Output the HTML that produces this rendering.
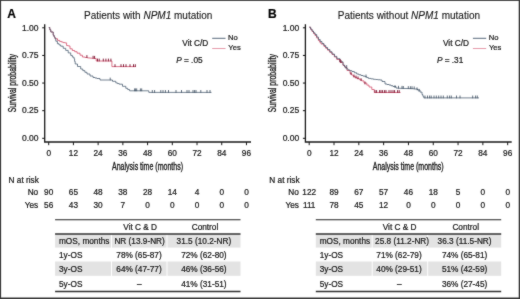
<!DOCTYPE html>
<html><head><meta charset="utf-8"><style>
html,body{margin:0;padding:0;background:#fff;}
body{width:520px;height:299px;overflow:hidden;}
svg{display:block;font-family:"Liberation Sans", sans-serif;}
#w{width:520px;height:299px;will-change:transform;}
text{stroke:#1a1a1a;stroke-width:0.22px;}
.lab{stroke-width:0.35px;}
</style></head><body><div id="w">
<svg width="520" height="299" viewBox="0 0 520 299">
<defs><filter id="sf" filterUnits="userSpaceOnUse" x="0" y="0" width="520" height="299" color-interpolation-filters="sRGB"><feConvolveMatrix order="3" kernelMatrix="1 2 1 2 24 2 1 2 1" divisor="36" edgeMode="duplicate"/></filter></defs>
<g filter="url(#sf)"><rect x="0" y="0" width="520" height="299" fill="#fff"/>
<rect x="0" y="0" width="520" height="1" fill="#4a4a4a"/><rect x="0" y="0" width="1.1" height="299" fill="#383838"/><rect x="518.7" y="0" width="1.3" height="299" fill="#3a3a3a"/><rect x="0" y="297.5" width="520" height="1.5" fill="#3a3a3a"/>
<text x="7.3" y="17.6" font-size="12" font-weight="bold" fill="#000">A</text>
<text x="148.2" y="19" font-size="10" text-anchor="middle" fill="#1a1a1a" style="stroke-width:0.12px">Patients with <tspan font-style="italic">NPM1</tspan> mutation</text>
<path d="M44.7 24.2 V142 H251" fill="none" stroke="#1a1a1a" stroke-width="1.3"/>
<path d="M42.2 27.8 H44.7" stroke="#111" stroke-width="1"/>
<text x="38.5" y="31" font-size="8.5" text-anchor="end" fill="#1a1a1a">1.00</text>
<path d="M42.2 55.425 H44.7" stroke="#111" stroke-width="1"/>
<text x="38.5" y="58" font-size="8.5" text-anchor="end" fill="#1a1a1a">0.75</text>
<path d="M42.2 83.05 H44.7" stroke="#111" stroke-width="1"/>
<text x="38.5" y="86" font-size="8.5" text-anchor="end" fill="#1a1a1a">0.50</text>
<path d="M42.2 110.675 H44.7" stroke="#111" stroke-width="1"/>
<text x="38.5" y="113" font-size="8.5" text-anchor="end" fill="#1a1a1a">0.25</text>
<path d="M42.2 138.3 H44.7" stroke="#111" stroke-width="1"/>
<text x="38.5" y="141" font-size="8.5" text-anchor="end" fill="#1a1a1a">0.00</text>
<path d="M48.7 142 V145.2" stroke="#1a1a1a" stroke-width="1"/>
<text x="48.7" y="156" font-size="8.25" text-anchor="middle" fill="#1a1a1a">0</text>
<path d="M73.42 142 V145.2" stroke="#1a1a1a" stroke-width="1"/>
<text x="73.42" y="156" font-size="8.25" text-anchor="middle" fill="#1a1a1a">12</text>
<path d="M98.14 142 V145.2" stroke="#1a1a1a" stroke-width="1"/>
<text x="98.14" y="156" font-size="8.25" text-anchor="middle" fill="#1a1a1a">24</text>
<path d="M122.86 142 V145.2" stroke="#1a1a1a" stroke-width="1"/>
<text x="122.86" y="156" font-size="8.25" text-anchor="middle" fill="#1a1a1a">36</text>
<path d="M147.57999999999998 142 V145.2" stroke="#1a1a1a" stroke-width="1"/>
<text x="147.57999999999998" y="156" font-size="8.25" text-anchor="middle" fill="#1a1a1a">48</text>
<path d="M172.3 142 V145.2" stroke="#1a1a1a" stroke-width="1"/>
<text x="172.3" y="156" font-size="8.25" text-anchor="middle" fill="#1a1a1a">60</text>
<path d="M197.01999999999998 142 V145.2" stroke="#1a1a1a" stroke-width="1"/>
<text x="197.01999999999998" y="156" font-size="8.25" text-anchor="middle" fill="#1a1a1a">72</text>
<path d="M221.74 142 V145.2" stroke="#1a1a1a" stroke-width="1"/>
<text x="221.74" y="156" font-size="8.25" text-anchor="middle" fill="#1a1a1a">84</text>
<path d="M246.45999999999998 142 V145.2" stroke="#1a1a1a" stroke-width="1"/>
<text x="246.45999999999998" y="156" font-size="8.25" text-anchor="middle" fill="#1a1a1a">96</text>
<text transform="translate(147.5 169.8) scale(0.704 1)" font-size="10" class="lab" text-anchor="middle" fill="#1a1a1a">Analysis time (months)</text>
<text transform="translate(15.6 83.2) rotate(-90) scale(0.694 1)" font-size="10" class="lab" text-anchor="middle" fill="#1a1a1a">Survival probability</text>
<text x="182.3" y="46.2" font-size="8.25" fill="#1a1a1a">Vit C/D</text>
<path d="M212.2 38.3 H225.5" stroke="#46596e" stroke-width="0.9"/>
<path d="M212.2 48.5 H225.5" stroke="#d04462" stroke-width="0.7" opacity="0.75"/>
<text x="228.1" y="40.4" font-size="7.6" fill="#1a1a1a">No</text>
<text x="228.3" y="50.0" font-size="7.6" fill="#1a1a1a">Yes</text>
<text x="176.2" y="63" font-size="8.25" fill="#1a1a1a"><tspan font-style="italic">P</tspan> = .05</text>
<path d="M48.80 27.50 L49.80 27.50 L49.80 29.75 L50.80 29.75 L50.80 32.00 L53.20 32.00 L53.20 35.20 L54.10 35.20 L54.10 36.95 L55.00 36.95 L55.00 38.70 L57.50 38.70 L57.50 40.40 L59.60 40.40 L59.60 41.40 L61.40 41.40 L61.40 42.00 L63.20 42.00 L63.20 42.60 L64.90 42.60 L64.90 42.90 L66.60 42.90 L66.60 43.20 L66.60 45.60 L68.30 45.60 L68.30 45.95 L70.00 45.95 L70.00 46.30 L70.00 48.80 L72.30 48.80 L72.30 50.50 L74.70 50.50 L74.70 51.70 L77.10 51.70 L77.10 53.20 L80.00 53.20 L80.00 55.20 L82.40 55.20 L82.40 57.00 L84.90 57.00 L84.90 57.45 L87.40 57.45 L87.40 57.90 L89.60 57.90 L89.60 58.10 L91.80 58.10 L91.80 58.30 L94.00 58.30 L94.00 58.50 L96.20 58.50 L96.20 61.00 L111.90 61.00 L111.90 66.60 L135.80 66.60" fill="none" stroke="#d04462" stroke-width="0.75"/>
<path d="M48.80 27.50 L49.80 27.50 L49.80 29.75 L50.80 29.75 L50.80 32.00 L53.20 32.00 L53.20 35.20 L54.10 35.20 L54.10 36.95 L55.00 36.95 L55.00 38.70 L55.80 38.70 L55.80 41.20 L57.40 41.20 L57.40 43.70 L59.05 43.70 L59.05 44.95 L60.70 44.95 L60.70 46.20 L63.20 46.20 L63.20 48.30 L65.70 48.30 L65.70 50.40 L68.20 50.40 L68.20 52.90 L70.70 52.90 L70.70 55.40 L72.35 55.40 L72.35 57.10 L74.00 57.10 L74.00 58.80 L74.60 58.80 L74.60 61.40 L75.20 61.40 L75.20 64.00 L77.50 64.00 L77.50 66.50 L80.70 66.50 L80.70 69.00 L82.80 69.00 L82.80 70.65 L84.90 70.65 L84.90 72.30 L87.00 72.30 L87.00 74.00 L90.00 74.00 L90.00 76.00 L93.00 76.00 L93.00 77.50 L95.00 77.50 L95.00 78.00 L97.00 78.00 L97.00 78.50 L100.00 78.50 L100.00 80.00 L109.50 80.00 L112.50 80.00 L112.50 81.30 L115.80 81.30 L115.80 82.90 L117.50 82.90 L117.50 83.55 L119.20 83.55 L119.20 84.20 L122.50 84.20 L122.50 86.30 L125.80 86.30 L125.80 88.30 L127.70 88.30 L127.70 89.55 L129.60 89.55 L129.60 90.80 L148.80 90.80 L148.80 92.40 L211.50 92.40" fill="none" stroke="#46596e" stroke-width="0.75"/>
<path d="M110.2 80.4v-2.8 M134.6 91.2v-2.8 M135.6 91.2v-2.8 M136.7 91.2v-2.8 M140.4 91.2v-2.8 M141.7 91.2v-2.8 M152.3 92.8v-2.8 M154.6 92.8v-2.8 M160.8 92.8v-2.8 M163.0 92.8v-2.8 M165.4 92.8v-2.8 M168.5 92.8v-2.8 M176.0 92.8v-2.8 M181.5 92.8v-2.8 M187.0 92.8v-2.8 M189.0 92.8v-2.8 M193.0 92.8v-2.8 M194.6 92.8v-2.8 M196.0 92.8v-2.8 M200.8 92.8v-2.8 M207.0 92.8v-2.8 M210.0 92.8v-2.8" stroke="#34465a" stroke-width="0.75"/>
<path d="M86.9 57.9v-2.8 M93.1 58.6v-2.8 M94.6 58.7v-2.8 M97.5 61.4v-2.8 M99.2 61.4v-2.8 M103.3 61.4v-2.8 M105.9 61.4v-2.8 M108.4 61.4v-2.8 M110.9 61.4v-2.8 M115.0 67.0v-2.8 M121.0 67.0v-2.8 M123.5 67.0v-2.8 M126.0 67.0v-2.8 M130.0 67.0v-2.8 M133.5 67.0v-2.8 M135.3 67.0v-2.8" stroke="#7a0f2c" stroke-width="0.9"/>
<text x="8.6" y="182.5" font-size="8.25" fill="#1a1a1a">N at risk</text>
<text x="38.2" y="195" font-size="8.25" text-anchor="end" fill="#1a1a1a">No</text>
<text x="38.2" y="208" font-size="8.25" text-anchor="end" fill="#1a1a1a">Yes</text>
<text x="48.7" y="195" font-size="8.25" text-anchor="middle" fill="#1a1a1a">90</text>
<text x="48.7" y="208" font-size="8.25" text-anchor="middle" fill="#1a1a1a">56</text>
<text x="73.42" y="195" font-size="8.25" text-anchor="middle" fill="#1a1a1a">65</text>
<text x="73.42" y="208" font-size="8.25" text-anchor="middle" fill="#1a1a1a">43</text>
<text x="98.14" y="195" font-size="8.25" text-anchor="middle" fill="#1a1a1a">48</text>
<text x="98.14" y="208" font-size="8.25" text-anchor="middle" fill="#1a1a1a">30</text>
<text x="122.86" y="195" font-size="8.25" text-anchor="middle" fill="#1a1a1a">38</text>
<text x="122.86" y="208" font-size="8.25" text-anchor="middle" fill="#1a1a1a">7</text>
<text x="147.57999999999998" y="195" font-size="8.25" text-anchor="middle" fill="#1a1a1a">28</text>
<text x="147.57999999999998" y="208" font-size="8.25" text-anchor="middle" fill="#1a1a1a">0</text>
<text x="172.3" y="195" font-size="8.25" text-anchor="middle" fill="#1a1a1a">14</text>
<text x="172.3" y="208" font-size="8.25" text-anchor="middle" fill="#1a1a1a">0</text>
<text x="197.01999999999998" y="195" font-size="8.25" text-anchor="middle" fill="#1a1a1a">4</text>
<text x="197.01999999999998" y="208" font-size="8.25" text-anchor="middle" fill="#1a1a1a">0</text>
<text x="221.74" y="195" font-size="8.25" text-anchor="middle" fill="#1a1a1a">0</text>
<text x="221.74" y="208" font-size="8.25" text-anchor="middle" fill="#1a1a1a">0</text>
<text x="246.45999999999998" y="195" font-size="8.25" text-anchor="middle" fill="#1a1a1a">0</text>
<text x="246.45999999999998" y="208" font-size="8.25" text-anchor="middle" fill="#1a1a1a">0</text>
<rect x="55.1" y="234.2" width="185.4" height="13.400000000000006" fill="#e3e3e3"/>
<rect x="55.1" y="261.5" width="185.4" height="14.300000000000011" fill="#e3e3e3"/>
<path d="M111.5 234.2 V291.3" stroke="#fff" stroke-width="1"/>
<path d="M167 234.2 V291.3" stroke="#fff" stroke-width="1"/>
<path d="M55.1 219.8 H240.5" stroke="#222" stroke-width="1.1"/>
<path d="M55.1 234 H240.5" stroke="#333" stroke-width="1.3"/>
<path d="M55.1 291.6 H240.5" stroke="#333" stroke-width="1.5"/>
<text x="140.2" y="229.6" font-size="8.25" text-anchor="middle" fill="#1a1a1a">Vit C &amp; D</text>
<text x="205.0" y="229.6" font-size="8.25" text-anchor="middle" fill="#1a1a1a">Control</text>
<text x="59" y="243.5" font-size="8.25" fill="#1a1a1a">mOS, months</text>
<text x="139.6" y="243.5" font-size="8.25" text-anchor="middle" fill="#1a1a1a">NR (13.9-NR)</text>
<text x="203.9" y="243.5" font-size="8.25" text-anchor="middle" fill="#1a1a1a">31.5 (10.2-NR)</text>
<text x="59" y="257.8" font-size="8.25" fill="#1a1a1a">1y-OS</text>
<text x="139" y="257.8" font-size="8.25" text-anchor="middle" fill="#1a1a1a">78% (65-87)</text>
<text x="203.9" y="257.8" font-size="8.25" text-anchor="middle" fill="#1a1a1a">72% (62-80)</text>
<text x="59" y="271.8" font-size="8.25" fill="#1a1a1a">3y-OS</text>
<text x="139" y="271.8" font-size="8.25" text-anchor="middle" fill="#1a1a1a">64% (47-77)</text>
<text x="203.9" y="271.8" font-size="8.25" text-anchor="middle" fill="#1a1a1a">46% (36-56)</text>
<text x="59" y="286.6" font-size="8.25" fill="#1a1a1a">5y-OS</text>
<text x="139.4" y="286.6" font-size="8.25" text-anchor="middle" fill="#1a1a1a">–</text>
<text x="203.9" y="286.6" font-size="8.25" text-anchor="middle" fill="#1a1a1a">41% (31-51)</text>
<text x="268.0" y="17.6" font-size="12" font-weight="bold" fill="#000">B</text>
<text x="408.9" y="19" font-size="10" text-anchor="middle" fill="#1a1a1a" style="stroke-width:0.12px">Patients without <tspan font-style="italic">NPM1</tspan> mutation</text>
<path d="M305.4 24.2 V142 H511.7" fill="none" stroke="#1a1a1a" stroke-width="1.3"/>
<path d="M302.9 27.8 H305.4" stroke="#111" stroke-width="1"/>
<text x="299.2" y="31" font-size="8.5" text-anchor="end" fill="#1a1a1a">1.00</text>
<path d="M302.9 55.425 H305.4" stroke="#111" stroke-width="1"/>
<text x="299.2" y="58" font-size="8.5" text-anchor="end" fill="#1a1a1a">0.75</text>
<path d="M302.9 83.05 H305.4" stroke="#111" stroke-width="1"/>
<text x="299.2" y="86" font-size="8.5" text-anchor="end" fill="#1a1a1a">0.50</text>
<path d="M302.9 110.675 H305.4" stroke="#111" stroke-width="1"/>
<text x="299.2" y="113" font-size="8.5" text-anchor="end" fill="#1a1a1a">0.25</text>
<path d="M302.9 138.3 H305.4" stroke="#111" stroke-width="1"/>
<text x="299.2" y="141" font-size="8.5" text-anchor="end" fill="#1a1a1a">0.00</text>
<path d="M309.2 142 V145.2" stroke="#1a1a1a" stroke-width="1"/>
<text x="309.2" y="156" font-size="8.25" text-anchor="middle" fill="#1a1a1a">0</text>
<path d="M334.01 142 V145.2" stroke="#1a1a1a" stroke-width="1"/>
<text x="334.01" y="156" font-size="8.25" text-anchor="middle" fill="#1a1a1a">12</text>
<path d="M358.82 142 V145.2" stroke="#1a1a1a" stroke-width="1"/>
<text x="358.82" y="156" font-size="8.25" text-anchor="middle" fill="#1a1a1a">24</text>
<path d="M383.63 142 V145.2" stroke="#1a1a1a" stroke-width="1"/>
<text x="383.63" y="156" font-size="8.25" text-anchor="middle" fill="#1a1a1a">36</text>
<path d="M408.44 142 V145.2" stroke="#1a1a1a" stroke-width="1"/>
<text x="408.44" y="156" font-size="8.25" text-anchor="middle" fill="#1a1a1a">48</text>
<path d="M433.25 142 V145.2" stroke="#1a1a1a" stroke-width="1"/>
<text x="433.25" y="156" font-size="8.25" text-anchor="middle" fill="#1a1a1a">60</text>
<path d="M458.05999999999995 142 V145.2" stroke="#1a1a1a" stroke-width="1"/>
<text x="458.05999999999995" y="156" font-size="8.25" text-anchor="middle" fill="#1a1a1a">72</text>
<path d="M482.87 142 V145.2" stroke="#1a1a1a" stroke-width="1"/>
<text x="482.87" y="156" font-size="8.25" text-anchor="middle" fill="#1a1a1a">84</text>
<path d="M507.67999999999995 142 V145.2" stroke="#1a1a1a" stroke-width="1"/>
<text x="507.67999999999995" y="156" font-size="8.25" text-anchor="middle" fill="#1a1a1a">96</text>
<text transform="translate(408.2 169.8) scale(0.704 1)" font-size="10" class="lab" text-anchor="middle" fill="#1a1a1a">Analysis time (months)</text>
<text transform="translate(276.3 83.2) rotate(-90) scale(0.694 1)" font-size="10" class="lab" text-anchor="middle" fill="#1a1a1a">Survival probability</text>
<text x="443.0" y="46.2" font-size="8.25" fill="#1a1a1a">Vit C/D</text>
<path d="M472.9 38.3 H486.2" stroke="#46596e" stroke-width="0.9"/>
<path d="M472.9 48.5 H486.2" stroke="#d04462" stroke-width="0.7" opacity="0.75"/>
<text x="488.79999999999995" y="40.4" font-size="7.6" fill="#1a1a1a">No</text>
<text x="489.0" y="50.0" font-size="7.6" fill="#1a1a1a">Yes</text>
<text x="436.9" y="63" font-size="8.25" fill="#1a1a1a"><tspan font-style="italic">P</tspan> = .31</text>
<path d="M309.20 27.20 L310.60 27.20 L310.60 29.35 L312.00 29.35 L312.00 31.50 L313.50 31.50 L313.50 33.50 L315.00 33.50 L315.00 35.50 L316.70 35.50 L316.70 38.00 L318.40 38.00 L318.40 40.50 L319.70 40.50 L319.70 42.25 L321.00 42.25 L321.00 44.00 L324.00 44.00 L324.00 46.50 L325.80 46.50 L325.80 48.35 L327.60 48.35 L327.60 50.20 L329.80 50.20 L329.80 52.35 L332.00 52.35 L332.00 54.50 L334.40 54.50 L334.40 57.00 L336.80 57.00 L336.80 59.50 L340.00 59.50 L340.00 62.50 L343.00 62.50 L343.00 65.50 L345.00 65.50 L345.00 67.50 L347.00 67.50 L347.00 70.50 L350.00 70.50 L350.00 73.50 L351.70 73.50 L351.70 75.10 L353.40 75.10 L353.40 76.70 L355.20 76.70 L355.20 77.60 L357.00 77.60 L357.00 78.50 L359.35 78.50 L359.35 79.70 L361.70 79.70 L361.70 80.90 L364.00 80.90 L364.00 83.00 L366.80 83.00 L366.80 85.10 L369.00 85.10 L369.00 87.00 L371.80 87.00 L371.80 89.50 L374.30 89.50 L374.30 92.50 L400.50 92.50" fill="none" stroke="#d04462" stroke-width="0.75"/>
<path d="M309.20 27.20 L310.60 27.20 L310.60 29.10 L312.00 29.10 L312.00 31.00 L313.50 31.00 L313.50 32.75 L315.00 32.75 L315.00 34.50 L316.70 34.50 L316.70 37.00 L318.40 37.00 L318.40 39.50 L320.20 39.50 L320.20 41.50 L322.00 41.50 L322.00 43.50 L323.87 43.50 L323.87 45.50 L325.73 45.50 L325.73 47.50 L327.60 47.50 L327.60 49.50 L329.80 49.50 L329.80 51.75 L332.00 51.75 L332.00 54.00 L334.40 54.00 L334.40 56.35 L336.80 56.35 L336.80 58.70 L340.00 58.70 L340.00 61.80 L343.00 61.80 L343.00 65.00 L344.50 65.00 L344.50 66.90 L346.00 66.90 L346.00 68.80 L348.00 68.80 L348.00 70.00 L350.00 70.00 L350.00 70.75 L352.00 70.75 L352.00 71.50 L354.35 71.50 L354.35 72.75 L356.70 72.75 L356.70 74.00 L358.85 74.00 L358.85 74.75 L361.00 74.75 L361.00 75.50 L363.00 75.50 L363.00 76.10 L365.00 76.10 L365.00 76.70 L366.70 76.70 L366.70 77.55 L368.40 77.55 L368.40 78.40 L370.90 78.40 L370.90 78.85 L373.40 78.85 L373.40 79.30 L375.60 79.30 L375.60 79.53 L377.80 79.53 L377.80 79.77 L380.00 79.77 L380.00 80.00 L382.00 80.00 L382.00 81.50 L385.00 81.50 L385.00 84.00 L387.00 84.00 L387.00 84.50 L389.00 84.50 L389.00 85.00 L391.00 85.00 L391.00 85.75 L393.00 85.75 L393.00 86.50 L396.00 86.50 L396.00 88.00 L400.00 88.30 L406.00 88.50 L413.30 88.70 L415.00 89.00 L417.50 89.00 L417.50 90.00 L420.00 90.00 L420.00 92.10 L422.00 92.10 L422.00 94.60 L422.90 94.60 L422.90 96.25 L423.80 96.25 L423.80 97.90 L479.00 97.90" fill="none" stroke="#46596e" stroke-width="0.75"/>
<path d="M346.7 67.9v-2.8 M366.0 77.3v-2.8 M395.0 88.0v-2.8 M398.5 88.6v-2.8 M402.0 88.7v-2.8 M403.3 88.8v-2.8 M408.3 88.9v-2.8 M410.4 89.0v-2.8 M412.0 89.0v-2.8 M414.2 89.2v-2.8 M417.0 90.2v-2.8 M419.0 91.7v-2.8 M425.0 98.3v-2.8 M427.5 98.3v-2.8 M429.6 98.3v-2.8 M431.2 98.3v-2.8 M434.0 98.3v-2.8 M436.3 98.3v-2.8 M438.7 98.3v-2.8 M441.0 98.3v-2.8 M443.3 98.3v-2.8 M447.3 98.3v-2.8 M449.6 98.3v-2.8 M451.3 98.3v-2.8 M456.5 98.3v-2.8 M460.0 98.3v-2.8 M472.7 98.3v-2.8 M475.6 98.3v-2.8 M477.3 98.3v-2.8" stroke="#34465a" stroke-width="0.75"/>
<path d="M340.0 61.9v-2.8 M341.0 62.9v-2.8 M351.0 74.9v-2.8 M354.0 77.4v-2.8 M356.0 78.4v-2.8 M358.0 79.3v-2.8 M361.0 81.0v-2.8 M365.0 84.4v-2.8 M375.0 92.9v-2.8 M376.6 92.9v-2.8 M379.6 92.9v-2.8 M381.0 92.9v-2.8 M382.6 92.9v-2.8 M384.6 92.9v-2.8 M386.0 92.9v-2.8 M389.0 92.9v-2.8 M391.0 92.9v-2.8 M393.0 92.9v-2.8 M394.6 92.9v-2.8 M397.6 92.9v-2.8 M399.2 92.9v-2.8" stroke="#7a0f2c" stroke-width="0.9"/>
<text x="269.3" y="182.5" font-size="8.25" fill="#1a1a1a">N at risk</text>
<text x="298.9" y="195" font-size="8.25" text-anchor="end" fill="#1a1a1a">No</text>
<text x="298.9" y="208" font-size="8.25" text-anchor="end" fill="#1a1a1a">Yes</text>
<text x="309.2" y="195" font-size="8.25" text-anchor="middle" fill="#1a1a1a">122</text>
<text x="309.2" y="208" font-size="8.25" text-anchor="middle" fill="#1a1a1a">111</text>
<text x="334.01" y="195" font-size="8.25" text-anchor="middle" fill="#1a1a1a">89</text>
<text x="334.01" y="208" font-size="8.25" text-anchor="middle" fill="#1a1a1a">78</text>
<text x="358.82" y="195" font-size="8.25" text-anchor="middle" fill="#1a1a1a">67</text>
<text x="358.82" y="208" font-size="8.25" text-anchor="middle" fill="#1a1a1a">45</text>
<text x="383.63" y="195" font-size="8.25" text-anchor="middle" fill="#1a1a1a">57</text>
<text x="383.63" y="208" font-size="8.25" text-anchor="middle" fill="#1a1a1a">12</text>
<text x="408.44" y="195" font-size="8.25" text-anchor="middle" fill="#1a1a1a">46</text>
<text x="408.44" y="208" font-size="8.25" text-anchor="middle" fill="#1a1a1a">0</text>
<text x="433.25" y="195" font-size="8.25" text-anchor="middle" fill="#1a1a1a">18</text>
<text x="433.25" y="208" font-size="8.25" text-anchor="middle" fill="#1a1a1a">0</text>
<text x="458.05999999999995" y="195" font-size="8.25" text-anchor="middle" fill="#1a1a1a">5</text>
<text x="458.05999999999995" y="208" font-size="8.25" text-anchor="middle" fill="#1a1a1a">0</text>
<text x="482.87" y="195" font-size="8.25" text-anchor="middle" fill="#1a1a1a">0</text>
<text x="482.87" y="208" font-size="8.25" text-anchor="middle" fill="#1a1a1a">0</text>
<text x="507.67999999999995" y="195" font-size="8.25" text-anchor="middle" fill="#1a1a1a">0</text>
<text x="507.67999999999995" y="208" font-size="8.25" text-anchor="middle" fill="#1a1a1a">0</text>
<rect x="315.8" y="234.2" width="185.39999999999998" height="13.400000000000006" fill="#e3e3e3"/>
<rect x="315.8" y="261.5" width="185.39999999999998" height="14.300000000000011" fill="#e3e3e3"/>
<path d="M372.2 234.2 V291.3" stroke="#fff" stroke-width="1"/>
<path d="M427.7 234.2 V291.3" stroke="#fff" stroke-width="1"/>
<path d="M315.8 219.8 H501.2" stroke="#222" stroke-width="1.1"/>
<path d="M315.8 234 H501.2" stroke="#333" stroke-width="1.3"/>
<path d="M315.8 291.6 H501.2" stroke="#333" stroke-width="1.5"/>
<text x="399.6" y="229.6" font-size="8.25" text-anchor="middle" fill="#1a1a1a">Vit C &amp; D</text>
<text x="465.7" y="229.6" font-size="8.25" text-anchor="middle" fill="#1a1a1a">Control</text>
<text x="319.7" y="243.5" font-size="8.25" fill="#1a1a1a">mOS, months</text>
<text x="402.1" y="243.5" font-size="8.25" text-anchor="middle" fill="#1a1a1a">25.8 (11.2-NR)</text>
<text x="464.6" y="243.5" font-size="8.25" text-anchor="middle" fill="#1a1a1a">36.3 (11.5-NR)</text>
<text x="319.7" y="257.8" font-size="8.25" fill="#1a1a1a">1y-OS</text>
<text x="399.0" y="257.8" font-size="8.25" text-anchor="middle" fill="#1a1a1a">71% (62-79)</text>
<text x="464.6" y="257.8" font-size="8.25" text-anchor="middle" fill="#1a1a1a">74% (65-81)</text>
<text x="319.7" y="271.8" font-size="8.25" fill="#1a1a1a">3y-OS</text>
<text x="399.0" y="271.8" font-size="8.25" text-anchor="middle" fill="#1a1a1a">40% (29-51)</text>
<text x="464.6" y="271.8" font-size="8.25" text-anchor="middle" fill="#1a1a1a">51% (42-59)</text>
<text x="319.7" y="286.6" font-size="8.25" fill="#1a1a1a">5y-OS</text>
<text x="399.29999999999995" y="286.6" font-size="8.25" text-anchor="middle" fill="#1a1a1a">–</text>
<text x="464.6" y="286.6" font-size="8.25" text-anchor="middle" fill="#1a1a1a">36% (27-45)</text>
</g></svg></div>
</body></html>
